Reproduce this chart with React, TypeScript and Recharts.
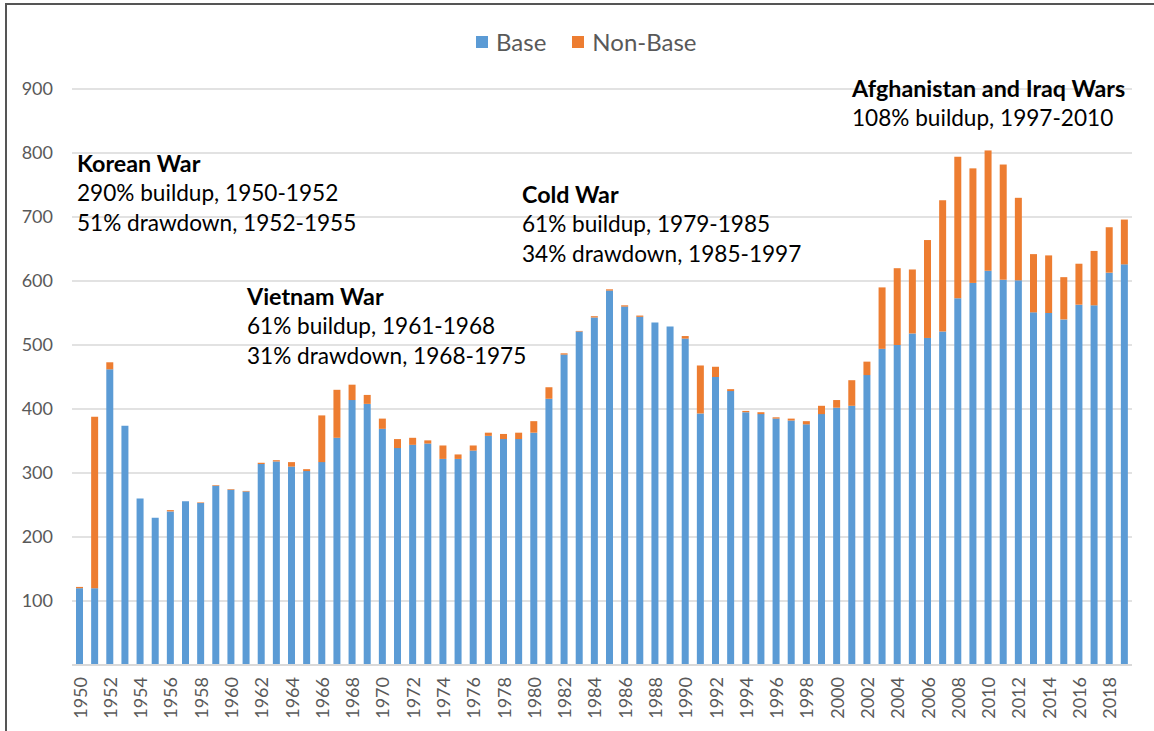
import React from "react";
import { BarChart, Bar, XAxis, YAxis, CartesianGrid } from "recharts";

const years: number[] = [
  1950, 1951, 1952, 1953, 1954, 1955, 1956, 1957, 1958, 1959,
  1960, 1961, 1962, 1963, 1964, 1965, 1966, 1967, 1968, 1969,
  1970, 1971, 1972, 1973, 1974, 1975, 1976, 1977, 1978, 1979,
  1980, 1981, 1982, 1983, 1984, 1985, 1986, 1987, 1988, 1989,
  1990, 1991, 1992, 1993, 1994, 1995, 1996, 1997, 1998, 1999,
  2000, 2001, 2002, 2003, 2004, 2005, 2006, 2007, 2008, 2009,
  2010, 2011, 2012, 2013, 2014, 2015, 2016, 2017, 2018, 2019,
];

const baseValues: number[] = [
  120, 120, 462, 374, 260, 230, 240, 256, 253, 280,
  274, 271, 314, 318, 310, 303, 317, 355, 414, 408,
  369, 339, 344, 346, 322, 322, 335, 358, 353, 353,
  363, 416, 485, 521, 543, 585, 560, 544, 535, 529,
  510, 393, 450, 428, 395, 392, 385, 382, 376, 392,
  402, 405, 453, 494, 500, 518, 511, 521, 573, 597,
  616, 602, 601, 551, 550, 540, 563, 562, 613, 626,
];

const nonBaseValues: number[] = [
  2, 268, 11, 0, 0, 0, 2, 0, 1, 1,
  1, 1, 2, 2, 7, 3, 73, 75, 24, 14,
  16, 14, 11, 5, 21, 7, 8, 5, 8, 10,
  18, 18, 2, 1, 2, 2, 2, 2, 0, 0,
  4, 75, 16, 3, 2, 3, 2, 3, 5, 13,
  12, 40, 21, 96, 120, 100, 153, 205, 221, 179,
  188, 180, 129, 91, 90, 66, 64, 85, 71, 70,
];

const yTicks: number[] = [100, 200, 300, 400, 500, 600, 700, 800, 900];

const seriesNames = { base: "Base", nonBase: "Non-Base" };
const colors = { base: "#5B9BD5", nonBase: "#ED7D31" };

const annotations = [
  { title: "Korean War", lines: ["290% buildup, 1950-1952", "51% drawdown, 1952-1955"], left: 77, top: 148 },
  { title: "Vietnam War", lines: ["61% buildup, 1961-1968", "31% drawdown, 1968-1975"], left: 247, top: 281 },
  { title: "Cold War", lines: ["61% buildup, 1979-1985", "34% drawdown, 1985-1997"], left: 522, top: 179 },
  { title: "Afghanistan and Iraq Wars", lines: ["108% buildup, 1997-2010"], left: 852, top: 73 },
];

const data = years.map((y, i) => ({
  year: String(y),
  base: baseValues[i],
  nonBase: nonBaseValues[i],
}));

const FONT = "Lato, 'Open Sans', sans-serif";
const TICK_COLOR = "#595959";

const XTick = (props: any) => {
  const { x, y, payload } = props;
  return (
    <text
      x={x}
      y={y}
      transform={`rotate(-90, ${x}, ${y})`}
      textAnchor="end"
      dominantBaseline="central"
      fill={TICK_COLOR}
      fontSize={18}
      fontFamily={FONT}
    >
      {payload.value}
    </text>
  );
};

export default function App() {
  return (
    <div style={{ position: "absolute", left: 0, top: 0, width: 1154, height: 731, background: "#fff", overflow: "hidden", fontFamily: FONT }}>
      <div style={{ position: "absolute", left: 5, top: 3, right: -10, bottom: -10, borderTop: "2px solid #555", borderLeft: "2px solid #555" }} />
      <BarChart
        width={1154}
        height={731}
        data={data}
        margin={{ top: 89, right: 22, left: 0, bottom: 0 }}
        barSize={7}
      >
        <CartesianGrid vertical={false} stroke="#d9d9d9" strokeWidth={1.5} />
        <XAxis
          dataKey="year"
          interval={1}
          height={66}
          tickLine={false}
          tickSize={0}
          tickMargin={12}
          axisLine={{ stroke: "#d9d9d9", strokeWidth: 2 }}
          tick={<XTick />}
        />
        <YAxis
          domain={[0, 900]}
          ticks={yTicks}
          width={72}
          axisLine={false}
          tickLine={false}
          tickSize={0}
          tickMargin={19}
          tick={{ fill: TICK_COLOR, fontSize: 18, fontFamily: FONT }}
        />
        <Bar dataKey="base" name={seriesNames.base} stackId="a" fill={colors.base} isAnimationActive={false} />
        <Bar dataKey="nonBase" name={seriesNames.nonBase} stackId="a" fill={colors.nonBase} isAnimationActive={false} />
      </BarChart>
      <div style={{ position: "absolute", left: 476, top: 27, display: "flex", alignItems: "center", color: TICK_COLOR, fontSize: 24 }}>
        <span style={{ width: 12, height: 12, background: colors.base, display: "inline-block", marginRight: 8 }} />
        <span>{seriesNames.base}</span>
        <span style={{ width: 12, height: 12, background: colors.nonBase, display: "inline-block", marginLeft: 26, marginRight: 8 }} />
        <span>{seriesNames.nonBase}</span>
      </div>
      {annotations.map((a) => (
        <div key={a.title} style={{ position: "absolute", left: a.left, top: a.top, fontSize: 22.6, lineHeight: "30px", color: "#000", whiteSpace: "nowrap" }}>
          <div style={{ fontWeight: 700, fontSize: 23.3 }}>{a.title}</div>
          {a.lines.map((l) => (
            <div key={l}>{l}</div>
          ))}
        </div>
      ))}
    </div>
  );
}
